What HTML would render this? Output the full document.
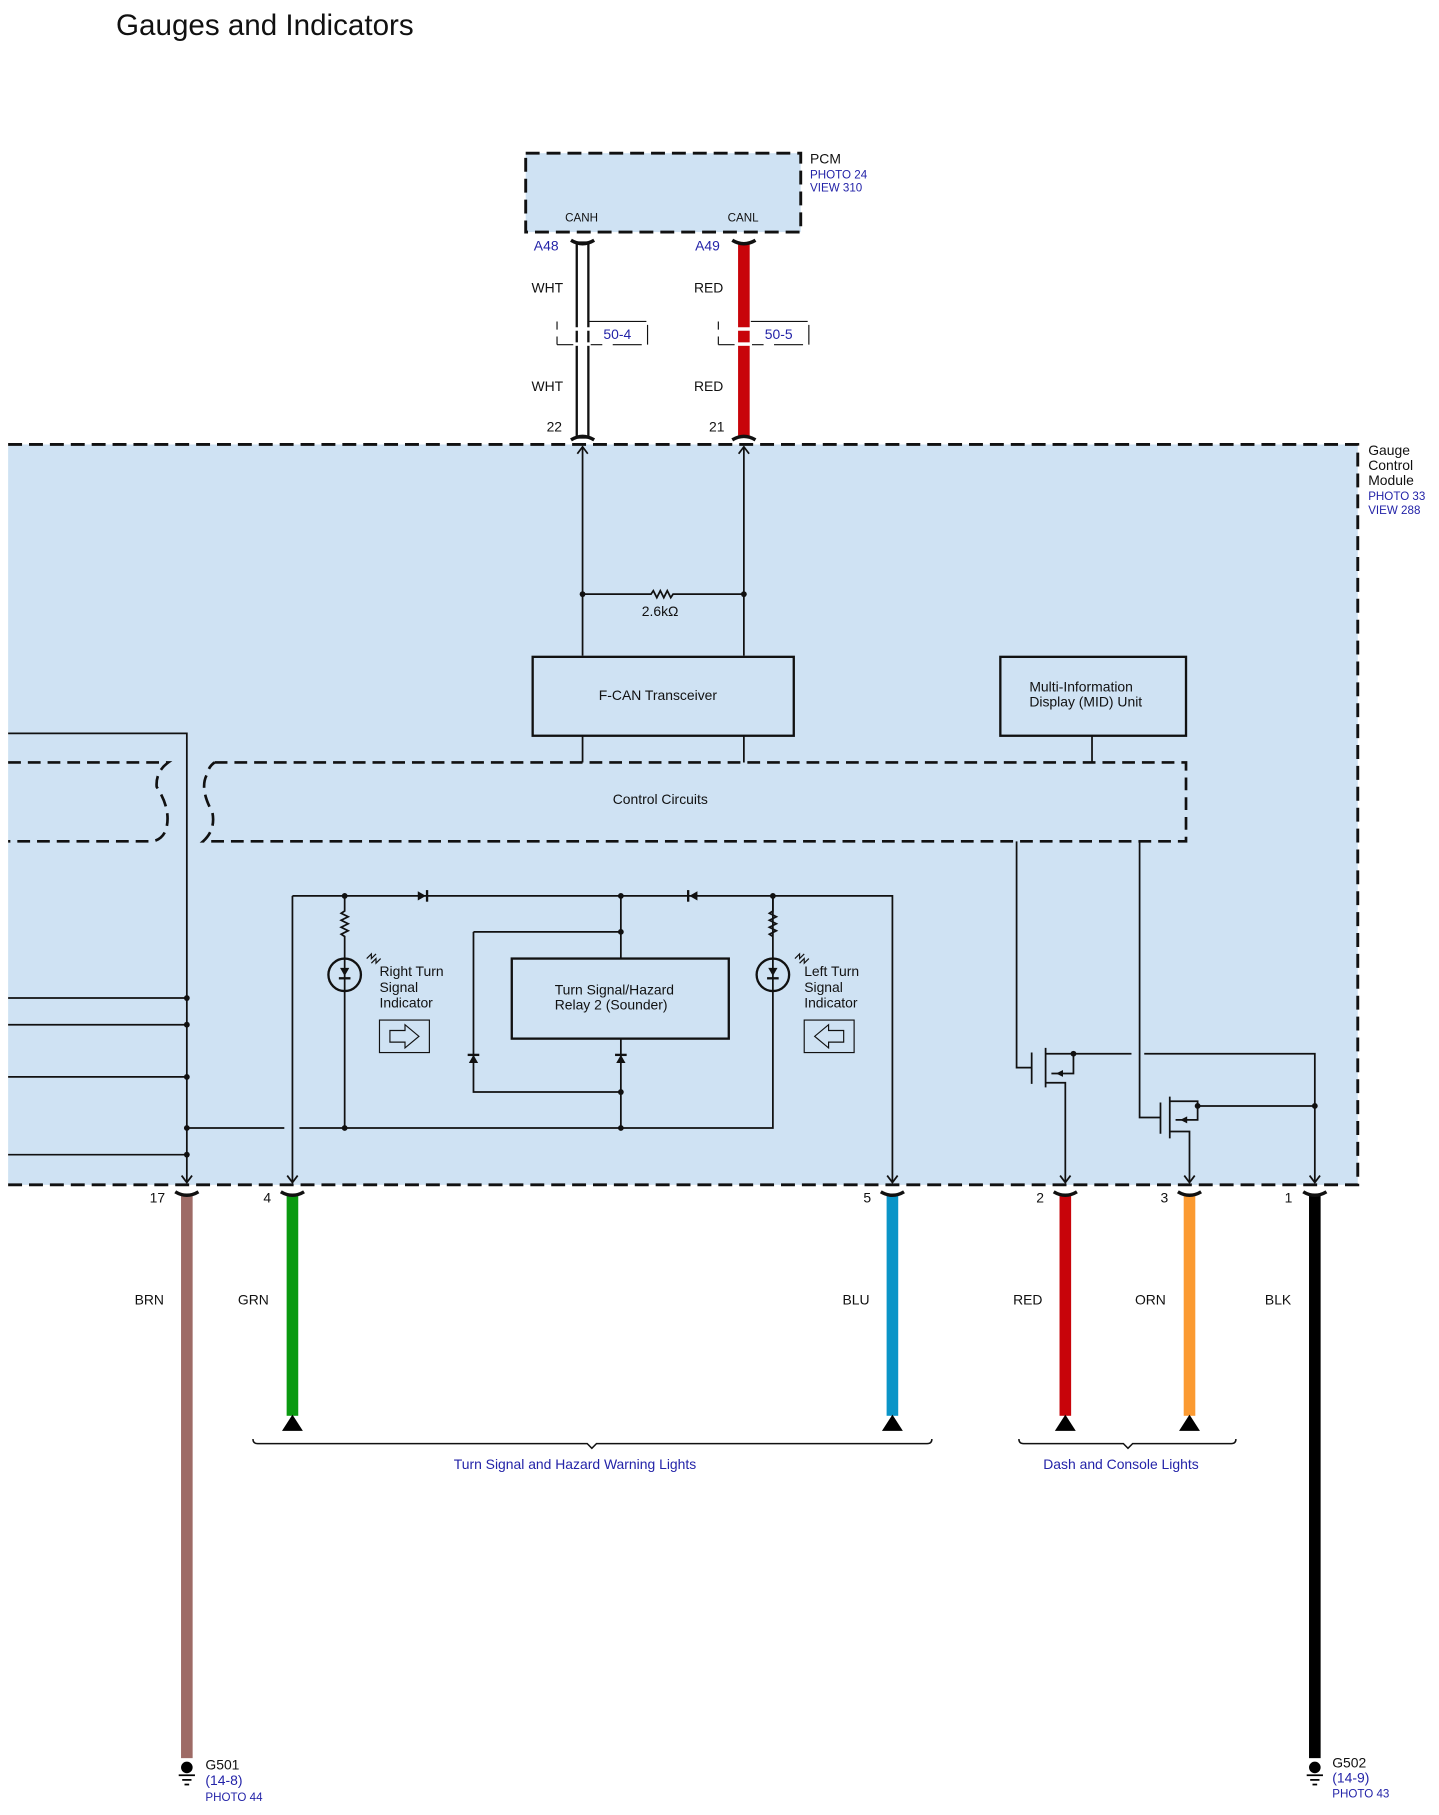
<!DOCTYPE html>
<html><head><meta charset="utf-8"><style>
html,body{margin:0;padding:0;background:#fff}
svg{display:block}
text{font-family:"Liberation Sans",sans-serif;fill:#111}
.b{fill:#2323a8}
</style></head><body>
<svg width="1439" height="1815" viewBox="0 0 1240 1564" preserveAspectRatio="none" xmlns="http://www.w3.org/2000/svg">
<text x="100" y="30" font-size="25.5">Gauges and Indicators</text>

<!-- PCM -->
<rect x="453" y="132" width="237" height="68" fill="#cfe2f3" stroke="#111" stroke-width="2.5" stroke-dasharray="12,6"/>
<text x="698" y="141" font-size="12">PCM</text>
<text x="698" y="154" font-size="10" class="b">PHOTO 24</text>
<text x="698" y="165" font-size="10" class="b">VIEW 310</text>
<text x="487" y="191" font-size="10">CANH</text>
<text x="627" y="191" font-size="10">CANL</text>
<text x="460" y="216" font-size="12" class="b">A48</text>
<text x="599" y="216" font-size="12" class="b">A49</text>

<!-- main module -->
<rect x="7" y="383" width="1163" height="638" fill="#cfe2f3"/>
<path d="M7,383 H1170 V1021 H7" fill="none" stroke="#111" stroke-width="2.5" stroke-dasharray="12,6"/>
<text x="1179" y="392" font-size="12">Gauge</text>
<text x="1179" y="405" font-size="12">Control</text>
<text x="1179" y="418" font-size="12">Module</text>
<text x="1179" y="431" font-size="10" class="b">PHOTO 33</text>
<text x="1179" y="443" font-size="10" class="b">VIEW 288</text>

<!-- CAN wires -->
<rect x="497" y="209" width="10" height="168" fill="#fff" stroke="#111" stroke-width="2"/>
<rect x="636" y="209" width="10" height="168" fill="#c8040a"/>
<path d="M492,207 Q502,213 512,207 M631,207 Q641,213 651,207 M492,379 Q502,373 512,379 M631,379 Q641,373 651,379" fill="none" stroke="#111" stroke-width="3"/>
<rect x="495" y="282" width="14" height="3" fill="#fff"/><rect x="495" y="295" width="14" height="3" fill="#fff"/>
<rect x="634" y="282" width="14" height="3" fill="#fff"/><rect x="634" y="295" width="14" height="3" fill="#fff"/>
<path d="M480,277 V284 M480,290 V297 M480,297 H494 M509,297 H519 M528,297 H553 M558,280 V297 M508,277 H557" fill="none" stroke="#111" stroke-width="1"/>
<path d="M619,277 V284 M619,290 V297 M619,297 H633 M648,297 H658 M667,297 H692 M697,280 V297 M647,277 H696" fill="none" stroke="#111" stroke-width="1"/>
<text x="520" y="292" font-size="12" class="b">50-4</text>
<text x="659" y="292" font-size="12" class="b">50-5</text>
<text x="458" y="252" font-size="12">WHT</text><text x="458" y="337" font-size="12">WHT</text>
<text x="598" y="252" font-size="12">RED</text><text x="598" y="337" font-size="12">RED</text>
<text x="471" y="372" font-size="12">22</text><text x="611" y="372" font-size="12">21</text>

<g fill="none" stroke="#111" stroke-width="1.5">
<path d="M502,565 V385 M641,565 V385"/>
<path d="M497.5,391 L502,385 L506.5,391 M636.5,391 L641,385 L645.5,391"/>
<path d="M502,512 H561 l2,-3 l3,6 l3,-6 l3,6 l3,-6 l3,6 l2,-3 H641"/>
<rect x="459" y="566" width="225" height="68" stroke-width="2"/>
<rect x="862" y="566" width="160" height="68" stroke-width="2"/>
<path d="M502,634 V657 M641,634 V657 M941,634 V657"/>
<path d="M185,657 H1022 V725 H175 Q186,715 183,700 Q172,680 178,668 Q180,660 185,657" stroke-width="2.3" stroke-dasharray="11,6"/>
<path d="M7,657 H145 Q134,665 135,678 Q148,698 143,715 Q140,723 132,725 H7" stroke-width="2.3" stroke-dasharray="11,6"/>
<path d="M7,632 H161 V1019"/>
<path d="M7,860 H161 M7,883 H161 M7,928 H161 M7,995 H161 M161,972 H245 M258,972 H666 V772"/>
<path d="M252,772 H769 V1019"/>
<path d="M252,772 V1019"/>
<path d="M297,772 V785 l-3,2 l6,3 l-6,3 l6,3 l-6,3 l6,3 l-6,3 l3,2 V972"/>
<path d="M666,772 V785 l-3,2 l6,3 l-6,3 l6,3 l-6,3 l6,3 l-6,3 l3,2"/>
<circle cx="297" cy="840" r="14" stroke-width="2"/>
<circle cx="666" cy="840" r="14" stroke-width="2"/>
<path d="M535,772 V826 M535,895 V972 M408,803 H535 M408,803 V941 H535"/>
<rect x="441" y="826" width="187" height="69" stroke-width="2"/>
<rect x="327" y="879" width="43" height="28" stroke-width="1"/>
<rect x="693" y="879" width="43" height="28" stroke-width="1"/>
<path d="M336,888 H349 V883 L361,893 L349,903 V898 H336 Z" stroke-width="1"/>
<path d="M727,888 H714 V883 L702,893 L714,903 V898 H727 Z" stroke-width="1"/>
<path d="M316,826 l4,-4 l0,4 l4,-4 M320,830 l4,-4 l0,4 l4,-4" stroke-width="1"/>
<path d="M685,826 l4,-4 l0,4 l4,-4 M689,830 l4,-4 l0,4 l4,-4" stroke-width="1"/>
<path d="M876,725 V920 H889 M889,907 V934 M901,903 V937 M901,908 H925 V925 H906 M901,933 H918 V1019"/>
<path d="M925,908 H975 M986,908 H1133 V1019"/>
<path d="M982,725 V963 H1000 M1000,950 V977 M1008,945 V981 M1008,949 H1032 V965 H1013 M1008,975 H1025 V1019"/>
<path d="M1032,953 H1133"/>
<!-- down arrowheads -->
<path d="M156.5,1013 L161,1019 L165.5,1013 M247.5,1013 L252,1019 L256.5,1013 M764.5,1013 L769,1019 L773.5,1013 M913.5,1013 L918,1019 L922.5,1013 M1020.5,1013 L1025,1019 L1029.5,1013 M1128.5,1013 L1133,1019 L1137.5,1013"/>
</g>
<g fill="#111">
<path d="M360,768 L360,776 L367,772 Z"/><rect x="367" y="767" width="2" height="10"/>
<path d="M601,768 L601,776 L594,772 Z"/><rect x="592" y="767" width="2" height="10"/>
<path d="M293,834 H301 L297,841 Z"/><rect x="292" y="842" width="10" height="2"/>
<path d="M662,834 H670 L666,841 Z"/><rect x="661" y="842" width="10" height="2"/>
<path d="M404,916 H412 L408,909 Z"/><rect x="403" y="908" width="10" height="2"/>
<path d="M531,916 H539 L535,909 Z"/><rect x="530" y="908" width="10" height="2"/>
<path d="M910,925 l6,-3 v6 Z"/><path d="M1017,965 l6,-3 v6 Z"/>
<circle cx="502" cy="512" r="2.5"/><circle cx="641" cy="512" r="2.5"/>
<circle cx="161" cy="860" r="2.5"/><circle cx="161" cy="883" r="2.5"/><circle cx="161" cy="928" r="2.5"/><circle cx="161" cy="972" r="2.5"/><circle cx="161" cy="995" r="2.5"/>
<circle cx="297" cy="772" r="2.5"/><circle cx="535" cy="772" r="2.5"/><circle cx="666" cy="772" r="2.5"/>
<circle cx="535" cy="803" r="2.5"/><circle cx="535" cy="941" r="2.5"/><circle cx="535" cy="972" r="2.5"/><circle cx="297" cy="972" r="2.5"/>
<circle cx="925" cy="908" r="2.5"/><circle cx="1032" cy="953" r="2.5"/><circle cx="1133" cy="953" r="2.5"/>
</g>
<text x="553" y="531" font-size="12">2.6kΩ</text>
<text x="516" y="603" font-size="12">F-CAN Transceiver</text>
<text x="887" y="596" font-size="12">Multi-Information</text>
<text x="887" y="609" font-size="12">Display (MID) Unit</text>
<text x="528" y="693" font-size="12">Control Circuits</text>
<text x="478" y="857" font-size="12">Turn Signal/Hazard</text>
<text x="478" y="870" font-size="12">Relay 2 (Sounder)</text>
<text x="327" y="841" font-size="12">Right Turn</text><text x="327" y="855" font-size="12">Signal</text><text x="327" y="868" font-size="12">Indicator</text>
<text x="693" y="841" font-size="12">Left Turn</text><text x="693" y="855" font-size="12">Signal</text><text x="693" y="868" font-size="12">Indicator</text>

<rect x="156" y="1029" width="10" height="486" fill="#9e6b66"/>
<rect x="247" y="1029" width="10" height="191" fill="#0a9a10"/>
<rect x="764" y="1029" width="10" height="191" fill="#0a95c8"/>
<rect x="913" y="1029" width="10" height="191" fill="#c8040a"/>
<rect x="1020" y="1029" width="10" height="191" fill="#fb9a31"/>
<rect x="1128" y="1029" width="10" height="486" fill="#000"/>
<path d="M151,1027 Q161,1033 171,1027 M242,1027 Q252,1033 262,1027 M759,1027 Q769,1033 779,1027 M908,1027 Q918,1033 928,1027 M1015,1027 Q1025,1033 1035,1027 M1123,1027 Q1133,1033 1143,1027" fill="none" stroke="#111" stroke-width="3"/>
<g fill="#000"><path d="M243,1233 L252,1219 L261,1233 Z"/><path d="M760,1233 L769,1219 L778,1233 Z"/><path d="M909,1233 L918,1219 L927,1233 Z"/><path d="M1016,1233 L1025,1219 L1034,1233 Z"/></g>
<g fill="none" stroke="#111" stroke-width="1.3">
<path d="M218,1240 Q218,1244 222,1244 H506 L510,1248 L514,1244 H799 Q803,1244 803,1240"/>
<path d="M878,1240 Q878,1244 882,1244 H968 L972,1248 L976,1244 H1061 Q1065,1244 1065,1240"/>
</g>
<text x="391" y="1266" font-size="12" class="b">Turn Signal and Hazard Warning Lights</text>
<text x="899" y="1266" font-size="12" class="b">Dash and Console Lights</text>
<text x="129" y="1036" font-size="12">17</text><text x="227" y="1036" font-size="12">4</text><text x="744" y="1036" font-size="12">5</text>
<text x="893" y="1036" font-size="12">2</text><text x="1000" y="1036" font-size="12">3</text><text x="1107" y="1036" font-size="12">1</text>
<text x="116" y="1124" font-size="12">BRN</text><text x="205" y="1124" font-size="12">GRN</text><text x="726" y="1124" font-size="12">BLU</text>
<text x="873" y="1124" font-size="12">RED</text><text x="978" y="1124" font-size="12">ORN</text><text x="1090" y="1124" font-size="12">BLK</text>
<g fill="#000"><circle cx="161" cy="1523" r="5"/><rect x="154" y="1529" width="14" height="1.5"/><rect x="157" y="1533" width="8" height="1.5"/><rect x="159" y="1537" width="4" height="1.5"/>
<circle cx="1133" cy="1523" r="5"/><rect x="1126" y="1529" width="14" height="1.5"/><rect x="1129" y="1533" width="8" height="1.5"/><rect x="1131" y="1537" width="4" height="1.5"/></g>
<text x="177" y="1525" font-size="12">G501</text><text x="177" y="1538" font-size="12" class="b">(14-8)</text><text x="177" y="1552" font-size="10" class="b">PHOTO 44</text>
<text x="1148" y="1523" font-size="12">G502</text><text x="1148" y="1536" font-size="12" class="b">(14-9)</text><text x="1148" y="1549" font-size="10" class="b">PHOTO 43</text>
</svg>
</body></html>
